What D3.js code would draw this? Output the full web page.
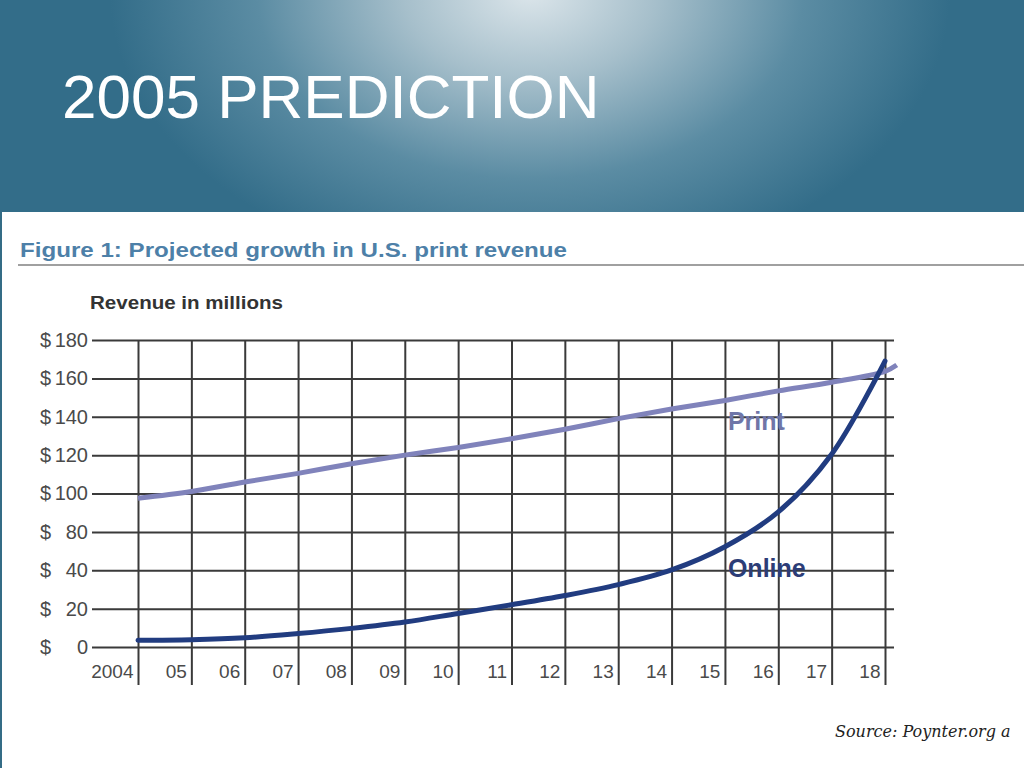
<!DOCTYPE html>
<html>
<head>
<meta charset="utf-8">
<script src="https://cdn.jsdelivr.net/npm/d3@7/dist/d3.min.js"></script>
<style>
  html, body { margin: 0; padding: 0; background: #fff; overflow: hidden; }
  svg { display: block; }
</style>
</head>
<body>
<div id="chart-area"></div>
<script>
// data (values in the chart's own label units)
var years = [2004, 2005, 2006, 2007, 2008, 2009, 2010, 2011, 2012, 2013, 2014, 2015, 2016, 2017, 2018, 2018.22];
var printValues = [97.5, 101, 106, 110.5, 115.5, 120, 124, 128.5, 133.5, 139, 144, 148.5, 153.5, 158, 163.7, 167];
var onlineYears = [2004, 2005, 2006, 2007, 2008, 2009, 2010, 2011, 2012, 2013, 2014, 2015, 2016, 2017, 2018];
var onlineValues = [3.5, 3.8, 4.8, 7, 9.7, 13, 17.5, 22, 26.8, 32.5, 40.3, 64.5, 90.4, 120.5, 169];

var xTicks = [2004, 2005, 2006, 2007, 2008, 2009, 2010, 2011, 2012, 2013, 2014, 2015, 2016, 2017, 2018];
var xLabels = ["2004", "05", "06", "07", "08", "09", "10", "11", "12", "13", "14", "15", "16", "17", "18"];
var yTicks = [0, 20, 40, 80, 100, 120, 140, 160, 180];
var yLabels = ["0", "20", "40", "80", "100", "120", "140", "160", "180"];

var W = 1024, H = 768;
var plot = { left: 138, right: 885, top: 340, bottom: 647 };

var svg = d3.select("#chart-area")
    .append("svg")
    .attr("width", W)
    .attr("height", H);

// header gradient
var defs = svg.append("defs");
var grad = defs.append("radialGradient")
    .attr("id", "hdr")
    .attr("gradientUnits", "userSpaceOnUse")
    .attr("cx", 530).attr("cy", -10).attr("r", 420)
    .attr("gradientTransform", "translate(530,0) scale(1,0.68) translate(-530,0)");
grad.append("stop").attr("offset", 0).attr("stop-color", "#dbe5ea");
grad.append("stop").attr("offset", 0.3).attr("stop-color", "#a6bfcb");
grad.append("stop").attr("offset", 0.65).attr("stop-color", "#5b8ca3");
grad.append("stop").attr("offset", 1).attr("stop-color", "#336d89");

svg.append("rect")
    .attr("width", W).attr("height", 212)
    .attr("fill", "url(#hdr)");
svg.append("rect")
    .attr("x", 0).attr("y", 212).attr("width", 2).attr("height", H - 212)
    .attr("fill", "#346c86");

svg.append("text")
    .attr("x", 62).attr("y", 118)
    .attr("fill", "#fff")
    .style("font-family", "'Liberation Sans', Arial, sans-serif")
    .style("font-size", "62px")
    .text("2005 PREDICTION");

// figure title + rule
svg.append("text")
    .attr("x", 20).attr("y", 257)
    .attr("fill", "#4d80a8")
    .attr("textLength", 547).attr("lengthAdjust", "spacingAndGlyphs")
    .style("font-family", "'Liberation Sans', Arial, sans-serif")
    .style("font-weight", "bold")
    .style("font-size", "20px")
    .text("Figure 1: Projected growth in U.S. print revenue");

svg.append("line")
    .attr("x1", 18).attr("x2", W).attr("y1", 265).attr("y2", 265)
    .attr("stroke", "#a0a0a0").attr("stroke-width", 2);

svg.append("text")
    .attr("x", 90).attr("y", 309)
    .attr("fill", "#333")
    .attr("textLength", 193).attr("lengthAdjust", "spacingAndGlyphs")
    .style("font-family", "'Liberation Sans', Arial, sans-serif")
    .style("font-weight", "bold")
    .style("font-size", "19px")
    .text("Revenue in millions");

// scales (the printed y labels skip $60, so map each label to its own gridline)
var x = d3.scaleLinear().domain([2004, 2018]).range([plot.left, plot.right]);
var step = (plot.bottom - plot.top) / (yTicks.length - 1);
var y = d3.scaleLinear()
    .domain(yTicks)
    .range(yTicks.map((d, i) => plot.bottom - i * step));

var labelFont = "'Liberation Sans', Arial, sans-serif";

// horizontal grid / y axis
var yAxisGroup = svg.append("g")
    .attr("transform", "translate(92,0)")
    .call(d3.axisLeft(y)
        .tickValues(yTicks)
        .tickSize(-(894 - 92))
        .tickPadding(4)
        .tickFormat((d, i) => yLabels[i]));
yAxisGroup.select(".domain").remove();
yAxisGroup.selectAll(".tick line")
    .attr("stroke", "#3a3a3a").attr("stroke-width", 2);
yAxisGroup.selectAll(".tick text")
    .attr("fill", "#4a4a4a")
    .style("font-family", labelFont)
    .style("font-size", "20px");
yAxisGroup.selectAll(".tick").append("text")
    .attr("x", -52).attr("dy", "0.32em")
    .attr("text-anchor", "start")
    .attr("fill", "#4a4a4a")
    .style("font-family", labelFont)
    .style("font-size", "20px")
    .text("$");

// vertical grid / x axis
var xAxisGroup = svg.append("g")
    .attr("transform", "translate(0,685)")
    .call(d3.axisBottom(x)
        .tickValues(xTicks)
        .tickSize(-(685 - plot.top))
        .tickFormat((d, i) => xLabels[i]));
xAxisGroup.select(".domain").remove();
xAxisGroup.selectAll(".tick line")
    .attr("stroke", "#3a3a3a").attr("stroke-width", 2);
xAxisGroup.selectAll(".tick text")
    .attr("x", -5).attr("y", -7).attr("dy", 0)
    .attr("text-anchor", "end")
    .attr("fill", "#4a4a4a")
    .style("font-family", labelFont)
    .style("font-size", "19px");

// series
var line = d3.line()
    .x(d => x(d[0]))
    .y(d => y(d[1]))
    .curve(d3.curveCatmullRom.alpha(0.5));

svg.append("path")
    .datum(years.map((d, i) => [d, printValues[i]]))
    .attr("d", line)
    .attr("fill", "none")
    .attr("stroke", "#8083bb")
    .attr("stroke-width", 5);

svg.append("path")
    .datum(onlineYears.map((d, i) => [d, onlineValues[i]]))
    .attr("d", line)
    .attr("fill", "none")
    .attr("stroke", "#213c80")
    .attr("stroke-width", 5)
    .attr("stroke-linecap", "round");

svg.append("text")
    .attr("x", x(2015) + 3).attr("y", 430)
    .attr("fill", "#6f76a8")
    .style("font-family", labelFont)
    .style("font-weight", "bold")
    .style("font-size", "25px")
    .text("Print");

svg.append("text")
    .attr("x", x(2015) + 3).attr("y", 577)
    .attr("fill", "#2c3d77")
    .style("font-family", labelFont)
    .style("font-weight", "bold")
    .style("font-size", "25px")
    .text("Online");

svg.append("text")
    .attr("x", 835).attr("y", 737)
    .attr("fill", "#222")
    .style("font-family", "'DejaVu Serif', serif")
    .style("font-style", "italic")
    .style("font-size", "16px")
    .text("Source: Poynter.org a");
</script>
</body>
</html>
